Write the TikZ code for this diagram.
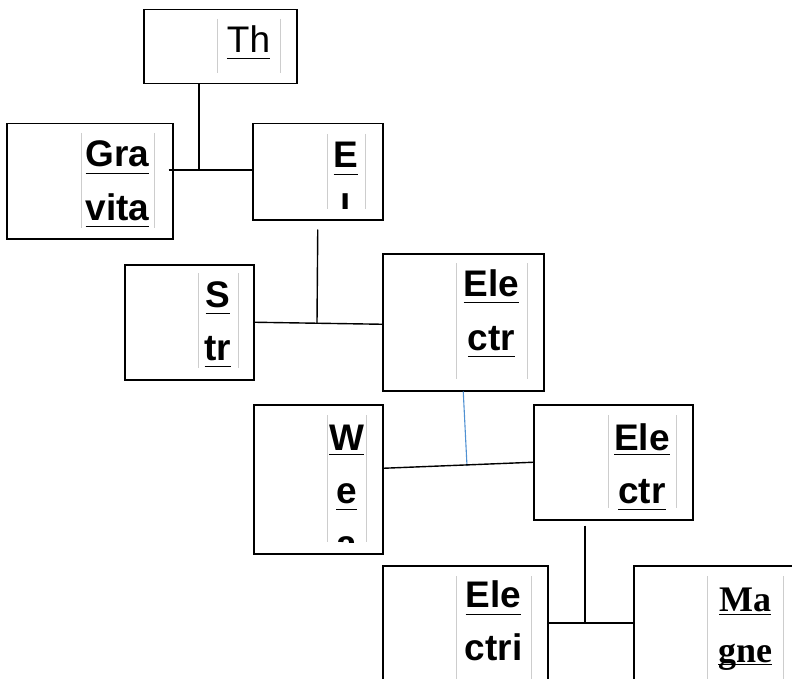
\documentclass[tikz,border=0pt]{standalone}
\usepackage{fontspec}
\setmainfont{Liberation Sans}
\newfontfamily\serifbd{Liberation Serif}
\definecolor{colgray}{RGB}{205,205,205}
\definecolor{linkblue}{RGB}{80,145,210}
\newcommand{\uln}[2][7pt]{\setbox0\hbox{#2}\rlap{\rule[-#1]{\wd0}{1.3pt}}\box0}

\begin{document}
\begin{tikzpicture}[
    x=1pt, y=-1pt,
    box/.style={draw, line width=1.5pt, inner sep=0pt, anchor=north west},
    link/.style={line width=1.4pt},
    colline/.style={colgray, line width=0.8pt},
    word/.style={anchor=base, inner sep=0pt, font=\fontsize{37}{53}\selectfont},
    wordbf/.style={word, font=\fontsize{37}{53}\selectfont\bfseries},
    wordsr/.style={word, font=\fontsize{36}{53}\serifbd\bfseries}
]
\clip (0,0) rectangle (792,679);
\node[box, minimum width=153pt, minimum height=74pt] (th) at (143,9) {};
\node[box, minimum width=166pt, minimum height=115pt] (grav) at (6,123) {};
\node[box, minimum width=130pt, minimum height=96pt] (e) at (252,123) {};
\node[box, minimum width=129pt, minimum height=115pt] (str) at (124,264) {};
\node[box, minimum width=161pt, minimum height=137pt] (ele1) at (382,253) {};
\node[box, minimum width=129pt, minimum height=149pt] (we) at (253,404) {};
\node[box, minimum width=159pt, minimum height=115pt] (ele2) at (533,404) {};
\node[box, minimum width=165pt, minimum height=130pt] (ele3) at (382,565) {};
\node[box, minimum width=200pt, minimum height=130pt] (mag) at (633,565) {};

\coordinate (j1) at (199,170);
\coordinate (j2) at (317,323);
\coordinate (j3) at (467,466);
\coordinate (j4) at (585,623);
\draw[link] (th.south -| j1) -- (j1);
\draw[link] ([xshift=-5pt]grav.east |- j1) -- (e.west |- j1);
\draw[link] ([yshift=-9pt]e.south) -- (j2);
\draw[link] (str.east) -- ([yshift=-2pt]ele1.west);
\draw[linkblue, line width=1.1pt] (ele1.south) -- (j3);
\draw[link] ([yshift=11pt]we.east) -- (ele2.west);
\draw[link] ([yshift=-5pt]ele2.south -| j4) -- (j4);
\draw[link] (ele3.east |- j4) -- (mag.west |- j4);

\foreach \xa/\xb/\ya/\yb in {217/280/19/73, 81/154/133/228, 327/365/134/209,
    198/238/273/368, 456/527/263/379, 327/366/415/542, 608/676/415/508,
    456/531/576/700, 707/783/576/700}
  \draw[colline] (\xa,\ya) -- (\xa,\yb) (\xb,\ya) -- (\xb,\yb);

\node[word] (thA) at (248.5,53) {\uln[6pt]{Th}};
\node[wordbf] (gravA) at (117.5,167) {\uln{Gra}};
\node[wordbf] (gravB) at (117.5,220) {\uln{vita}};
\begin{scope}
  \clip (327,134) rectangle (365,209);
  \node[wordbf] (eA) at (346,168) {\uln{E}};
  \node[wordbf] (eB) at (346,221) {\uln{l}};
\end{scope}
\node[wordbf] (strA) at (218,307) {\uln{S}};
\node[wordbf] (strB) at (218,360) {\uln{tr}};
\node[wordbf] (ele1A) at (491.5,296) {\uln{Ele}};
\node[wordbf] (ele1B) at (491.5,350) {\uln{ctr}};
\begin{scope}
  \clip (327,415) rectangle (366,542);
  \node[wordbf] (weA) at (346.5,450) {\uln[5pt]{W}};
  \node[wordbf] (weB) at (346.5,503) {\uln{e}};
  \node[wordbf] (weC) at (346.5,556) {\uln{a}};
\end{scope}
\node[wordbf] (ele2A) at (642,450) {\uln[5pt]{Ele}};
\node[wordbf] (ele2B) at (642,503) {\uln{ctr}};
\node[wordbf] (ele3A) at (493.5,607) {\uln[8pt]{Ele}};
\node[wordbf] (ele3B) at (493.5,660) {ctri};
\node[wordsr] (magA) at (745,611) {\uln[4pt]{Ma}};
\node[wordsr] (magB) at (745,662) {\uln[3pt]{gne}};
\end{tikzpicture}
\end{document}
